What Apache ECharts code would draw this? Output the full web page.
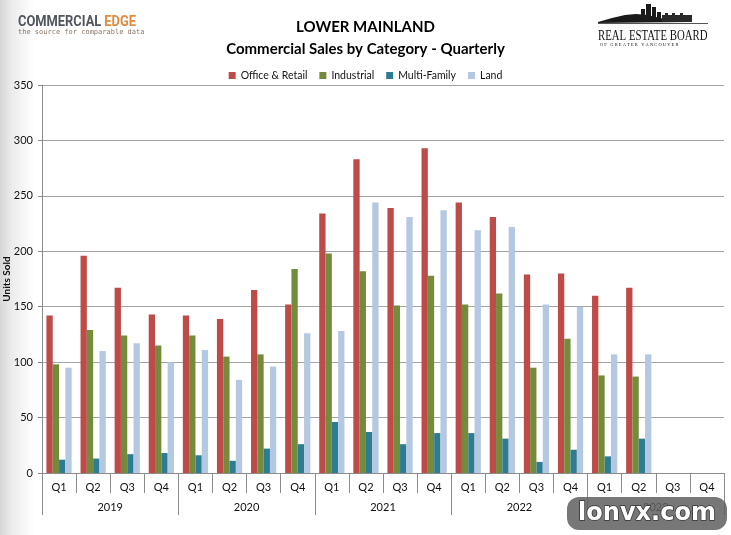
<!DOCTYPE html>
<html>
<head>
<meta charset="utf-8">
<script src="https://cdn.jsdelivr.net/npm/echarts@6/dist/echarts.min.js"></script>
<style>
html, body { margin: 0; padding: 0; }
#chart {
	width: 731px;
	height: 535px;
	background: linear-gradient(to right, #d6d6d6 0px, #ececec 12px, #ffffff 34px);
}
</style>
</head>
<body>
<div id="chart"></div>
<script>
var quarters = [ 'Q1', 'Q2', 'Q3', 'Q4', 'Q1', 'Q2', 'Q3', 'Q4', 'Q1', 'Q2', 'Q3', 'Q4',
	'Q1', 'Q2', 'Q3', 'Q4', 'Q1', 'Q2', 'Q3', 'Q4' ];
var years = [ '2019', '2020', '2021', '2022', '2023' ];
var seriesNames = [ 'Office & Retail', 'Industrial', 'Multi-Family', 'Land' ];
var officeRetail = [ 142, 196, 167, 143, 142, 139, 165, 152, 234, 283, 239, 293, 244, 231, 179, 180, 160, 167, null, null ];
var industrial = [ 98, 129, 124, 115, 124, 105, 107, 184, 198, 182, 151, 178, 152, 162, 95, 121, 88, 87, null, null ];
var multiFamily = [ 12, 13, 17, 18, 16, 11, 22, 26, 46, 37, 26, 36, 36, 31, 10, 21, 15, 31, null, null ];
var land = [ 95, 110, 117, 100, 111, 84, 96, 126, 128, 244, 231, 237, 219, 222, 152, 150, 107, 107, null, null ];
var colors = [ '#BE4B48', '#738C3B', '#2E7B94', '#B4C8E1' ];

var chart = echarts.init(document.getElementById('chart'));
var font = 'Lato, "Open Sans", sans-serif';

function bar(name, data, color) {
	return {
		type : 'bar',
		name : name,
		data : data,
		xAxisIndex : 0,
		barGap : '0%',
		barCategoryGap : '26%',
		itemStyle : { color : color },
		emphasis : { disabled : true }
	};
}

var option = {
	backgroundColor : 'transparent',
	animation : false,
	textStyle : { fontFamily : font },
	title : [ {
		text : 'LOWER MAINLAND',
		left : 'center',
		top : 15,
		textStyle : { fontSize : 15, fontWeight : 'bold', color : '#000', fontFamily : font }
	}, {
		text : 'Commercial Sales by Category - Quarterly',
		left : 'center',
		top : 37,
		textStyle : { fontSize : 15, fontWeight : 'bold', color : '#000', fontFamily : font }
	} ],
	legend : {
		data : seriesNames,
		top : 65,
		left : 'center',
		icon : 'rect',
		itemWidth : 7,
		itemHeight : 7,
		itemGap : 12,
		textStyle : { fontSize : 10.5, color : '#111', fontFamily : font }
	},
	grid : {
		left : 42,
		right : 7,
		top : 85,
		bottom : 62,
		containLabel : false,
		outerBoundsMode : 'none'
	},
	xAxis : [ {
		type : 'category',
		data : quarters,
		position : 'bottom',
		axisLine : { show : true, lineStyle : { color : '#8c8c8c' } },
		axisTick : { show : true, length : 20, interval : 0, lineStyle : { color : '#8c8c8c' } },
		axisLabel : { margin : 9, fontSize : 11, color : '#111', fontFamily : font, interval : 0 }
	}, {
		type : 'category',
		data : years,
		position : 'bottom',
		axisLine : { show : false },
		axisTick : { show : true, length : 42, interval : 0, lineStyle : { color : '#8c8c8c' } },
		axisLabel : { margin : 29, fontSize : 11, color : '#111', fontFamily : font, interval : 0 }
	} ],
	yAxis : {
		type : 'value',
		min : 0,
		max : 350,
		interval : 50,
		name : 'Units Sold',
		nameLocation : 'middle',
		nameGap : 30,
		nameMoveOverlap : false,
		nameTextStyle : { fontSize : 10, fontWeight : 'bold', color : '#111', fontFamily : font },
		axisLine : { show : true, lineStyle : { color : '#8c8c8c' } },
		axisTick : { show : true, length : 4, lineStyle : { color : '#8c8c8c' } },
		axisLabel : { margin : 9, fontSize : 11, color : '#111', fontFamily : font },
		splitLine : { lineStyle : { color : '#a3a3a3', width : 1 } }
	},
	series : [
		bar(seriesNames[0], officeRetail, colors[0]),
		bar(seriesNames[1], industrial, colors[1]),
		bar(seriesNames[2], multiFamily, colors[2]),
		bar(seriesNames[3], land, colors[3])
	],
	graphic : [
		// Commercial Edge logo
		{
			type : 'text',
			left : 18,
			top : 15,
			scaleX : 0.92,
			style : {
				text : '{a|COMMERCIAL} {b|EDGE}',
				rich : {
					a : { fontSize : 14, fontWeight : 'bold', fill : '#50555f', fontFamily : 'Roboto, sans-serif' },
					b : { fontSize : 14, fontWeight : 'bold', fill : '#e08b40', fontFamily : 'Roboto, sans-serif' }
				}
			}
		},
		{
			type : 'text',
			left : 18,
			top : 29,
			style : {
				text : 'the source for comparable data',
				fontSize : 7,
				fill : '#8a7463',
				fontFamily : '"DejaVu Sans Mono", monospace'
			}
		},
		// Real Estate Board logo: skyline
		{
			type : 'polygon',
			shape : { points : [ [ 598, 22 ], [ 612, 18 ], [ 625, 15 ], [ 636, 14 ], [ 648, 15 ], [ 660, 18 ], [ 672, 21 ], [ 690, 22 ], [ 598, 23 ] ] },
			style : { fill : '#1a1a1a' }
		},
		{ type : 'rect', shape : { x : 641, y : 9, width : 4, height : 13 }, style : { fill : '#1a1a1a' } },
		{ type : 'rect', shape : { x : 646, y : 4, width : 5, height : 18 }, style : { fill : '#1a1a1a' } },
		{ type : 'rect', shape : { x : 652, y : 7, width : 4, height : 15 }, style : { fill : '#1a1a1a' } },
		{ type : 'rect', shape : { x : 657, y : 12, width : 4, height : 10 }, style : { fill : '#1a1a1a' } },
		{ type : 'rect', shape : { x : 662, y : 15, width : 30, height : 7 }, style : { fill : '#2a2a2a' } },
		{ type : 'rect', shape : { x : 665, y : 13, width : 3, height : 3 }, style : { fill : '#2a2a2a' } },
		{ type : 'rect', shape : { x : 672, y : 13, width : 3, height : 3 }, style : { fill : '#2a2a2a' } },
		{ type : 'rect', shape : { x : 680, y : 13, width : 3, height : 3 }, style : { fill : '#2a2a2a' } },
		{ type : 'rect', shape : { x : 598, y : 23, width : 110, height : 1 }, style : { fill : '#555' } },
		{
			type : 'text',
			left : 598,
			top : 29,
			scaleX : 0.72,
			style : {
				text : 'REAL ESTATE BOARD',
				fontSize : 15,
				fill : '#111',
				fontFamily : '"Liberation Serif", serif'
			}
		},
		{
			type : 'text',
			left : 600,
			top : 42,
			style : {
				text : 'O F   G R E A T E R   V A N C O U V E R',
				fontSize : 4.5,
				fill : '#111',
				fontFamily : '"Liberation Serif", serif'
			}
		},
		// watermark
		{
			type : 'rect',
			shape : { x : 567, y : 497, width : 160, height : 33, r : 12 },
			style : { fill : 'rgba(95,95,95,0.85)' },
			z : 100
		},
		{
			type : 'text',
			x : 647,
			y : 514,
			z : 101,
			style : {
				text : 'lonvx.com',
				fontSize : 24,
				fontWeight : 'bold',
				fill : '#fff',
				stroke : '#333',
				lineWidth : 1.5,
				align : 'center',
				verticalAlign : 'middle',
				fontFamily : '"DejaVu Sans", sans-serif'
			}
		}
	]
};
chart.setOption(option);

window.onresize = function() {
	chart.resize();
};
</script>
</body>
</html>
